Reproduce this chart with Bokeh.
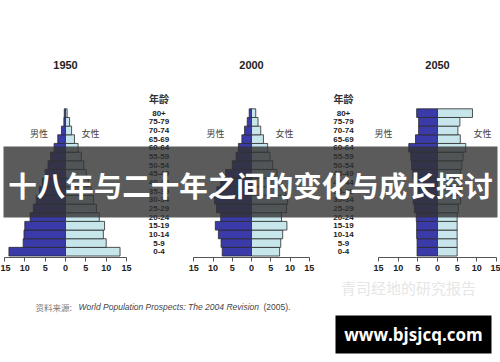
from bokeh.plotting import figure
from bokeh.models import Range1d, LinearAxis, FixedTicker, BoxAnnotation, Label, ColumnDataSource
from bokeh.core.properties import value
from bokeh.embed import file_html
from bokeh.resources import INLINE

# ---------------- data ----------------
ages = ["0-4", "5-9", "10-14", "15-19", "20-24", "25-29", "30-34", "35-39", "40-44",
        "45-49", "50-54", "55-59", "60-64", "65-69", "70-74", "75-79", "80+"]
years = ["1950", "2000", "2050"]
male_1950 = [13.9, 10.4, 10.2, 10.0, 8.7, 7.9, 7.2, 6.4, 5.7, 5.0, 4.3, 3.7, 2.8, 1.9, 1.0, 0.4, 0.3]
female_1950 = [13.4, 10.0, 9.3, 9.6, 8.3, 7.6, 6.9, 6.3, 5.6, 5.1, 4.5, 3.9, 3.1, 2.2, 1.5, 1.0, 0.4]
male_2000 = [7.6, 7.9, 8.6, 9.4, 8.0, 9.1, 9.6, 9.0, 8.0, 6.7, 5.0, 4.0, 3.4, 2.5, 1.8, 1.1, 0.6]
female_2000 = [7.3, 7.6, 8.1, 9.2, 7.8, 9.1, 9.4, 8.9, 7.9, 6.6, 5.5, 4.8, 4.2, 3.1, 2.4, 1.7, 1.1]
male_2050 = [5.2, 5.2, 5.3, 5.3, 5.4, 5.9, 6.2, 6.1, 6.2, 6.3, 6.6, 6.8, 7.3, 5.6, 4.8, 4.8, 5.3]
female_2050 = [5.0, 5.0, 5.0, 5.0, 5.0, 5.3, 5.9, 5.9, 6.0, 5.9, 6.2, 6.5, 7.2, 5.8, 5.2, 5.7, 8.9]
ticks = [-15, -10, -5, 0, 5, 10, 15]
tick_labels = ["15", "10", "5", "0", "5", "10", "15"]
male_label = "男性"
female_label = "女性"
age_title = "年龄"
banner_text = "十八年与二十年之间的变化与成长探讨"
source_prefix = "资料来源:"
source_title = "World Population Prospects: The 2004 Revision"
source_suffix = "(2005)."
watermark = "青司经地的研究报告"
site = "www.bjsjcq.com"

males = [male_1950, male_2000, male_2050]
females = [female_1950, female_2000, female_2050]

# ---------------- layout (page pixel coordinates) ----------------
W, H, OFF = 500, 362, 0
panel_center = [65, 251, 437]
panel_scale = [4.07, 3.85, 3.93]      # px per percent unit
row0_px, row_px = 251.2, 8.66         # centre of bottom row, row pitch
axis_y = 257
MALE = "#3a3aa8"
FEMALE = "#c6e6ec"
EDGE = "#2a2a2a"

p = figure(width=W, height=H, output_backend="svg", toolbar_location=None,
           x_range=Range1d(OFF, OFF + W), y_range=Range1d(OFF + H, OFF),
           x_axis_type=None, y_axis_type=None, min_border=0,
           background_fill_color="white", border_fill_color="white")
p.outline_line_color = None
p.grid.visible = False

p.extra_y_ranges = {"rows": Range1d((row0_px - (OFF + H)) / row_px, (row0_px - OFF) / row_px)}
xr = {}
for i, (c, s) in enumerate(zip(panel_center, panel_scale)):
    xr[f"p{i}"] = Range1d((OFF - c) / s, (OFF + W - c) / s)
p.extra_x_ranges = xr

rows = list(range(len(ages)))
for i in range(3):
    src = ColumnDataSource(dict(y=rows, m=[-v for v in males[i]], f=females[i],
                                z=[0] * len(ages)))
    p.hbar(y="y", left="m", right="z", height=1, source=src, x_range_name=f"p{i}",
           y_range_name="rows", fill_color=MALE, line_color=EDGE, line_width=0.8)
    p.hbar(y="y", left="z", right="f", height=1, source=src, x_range_name=f"p{i}",
           y_range_name="rows", fill_color=FEMALE, line_color=EDGE, line_width=0.8)
    ax = LinearAxis(x_range_name=f"p{i}", ticker=FixedTicker(ticks=ticks),
                    major_label_overrides={t: l for t, l in zip(ticks, tick_labels)},
                    bounds=(ticks[0], ticks[-1]), fixed_location=axis_y)
    ax.major_tick_in = 0
    ax.major_tick_out = 4
    ax.minor_tick_out = 0
    ax.minor_tick_in = 0
    ax.axis_line_color = "#555555"
    ax.major_tick_line_color = "#555555"
    ax.major_label_text_font = "Liberation Sans"
    ax.major_label_text_font_style = "bold"
    ax.major_label_text_font_size = "9px"
    ax.major_label_text_color = "#222222"
    ax.major_label_standoff = 3
    p.add_layout(ax, "below")
    p.add_layout(Label(x=panel_center[i], y=64, text=years[i], text_align="center",
                       text_baseline="middle", text_font="Liberation Sans",
                       text_font_style="bold", text_font_size="11px", text_color="#222222"))

sex_pos = [(38.5, 90), (215, 284), (383, 482)]
for (mx, fx) in sex_pos:
    for x, t in ((mx, male_label), (fx, female_label)):
        p.add_layout(Label(x=x, y=132.5, text=t, text_align="center", text_baseline="middle",
                           text_font="Noto Sans CJK SC", text_font_size="9px",
                           text_color="#444444"))

# age labels in the two gaps
for cx in (158.5, 343):
    p.text(x=[cx] * len(ages), y=rows, text=ages, y_range_name="rows",
           text_align="center", text_baseline="middle",
           text_font=value("Liberation Sans"), text_font_style="bold",
           text_font_size="8px", text_color="#222222")
    p.add_layout(Label(x=cx, y=97.5, text=age_title, text_align="center", text_baseline="middle",
                       text_font="Noto Sans CJK SC", text_font_size="10px",
                       text_font_style="bold", text_color="#333333"))

# source line
p.add_layout(Label(x=35, y=306.5, text=source_prefix, text_align="left", text_baseline="middle",
                   text_font="Noto Sans CJK SC", text_font_size="8.5px", text_color="#777777"))
p.add_layout(Label(x=78, y=306.5, text=source_title, text_align="left", text_baseline="middle",
                   text_font="Liberation Sans", text_font_style="italic", text_font_size="8.5px",
                   text_color="#444444"))
p.add_layout(Label(x=263, y=306.5, text=source_suffix, text_align="left", text_baseline="middle",
                   text_font="Liberation Sans", text_font_size="8.5px", text_color="#444444"))

# faint watermark
p.add_layout(Label(x=408, y=287, text=watermark, text_align="center", text_baseline="middle",
                   text_font="Noto Sans CJK SC", text_font_size="15px", text_color="#e6e6e6"))

# banner overlay
p.add_layout(BoxAnnotation(left=3, right=497, top=146, bottom=217, fill_color="#323232",
                           fill_alpha=0.8, line_color=None, level="annotation"))
p.add_layout(Label(x=250, y=184, text=banner_text, text_align="center", text_baseline="middle",
                   text_font="Noto Sans CJK SC", text_font_style="bold", text_font_size="28.5px",
                   text_color="white"))

# site box
p.add_layout(BoxAnnotation(left=335, right=491, top=315, bottom=353, fill_color="black",
                           fill_alpha=1.0, line_color=None, level="annotation"))
p.add_layout(Label(x=413, y=334, text=site, text_align="center", text_baseline="middle",
                   text_font="Open Sans", text_font_style="bold", text_font_size="17px",
                   text_color="white"))

open("out.html", "w").write(file_html(p, INLINE))
